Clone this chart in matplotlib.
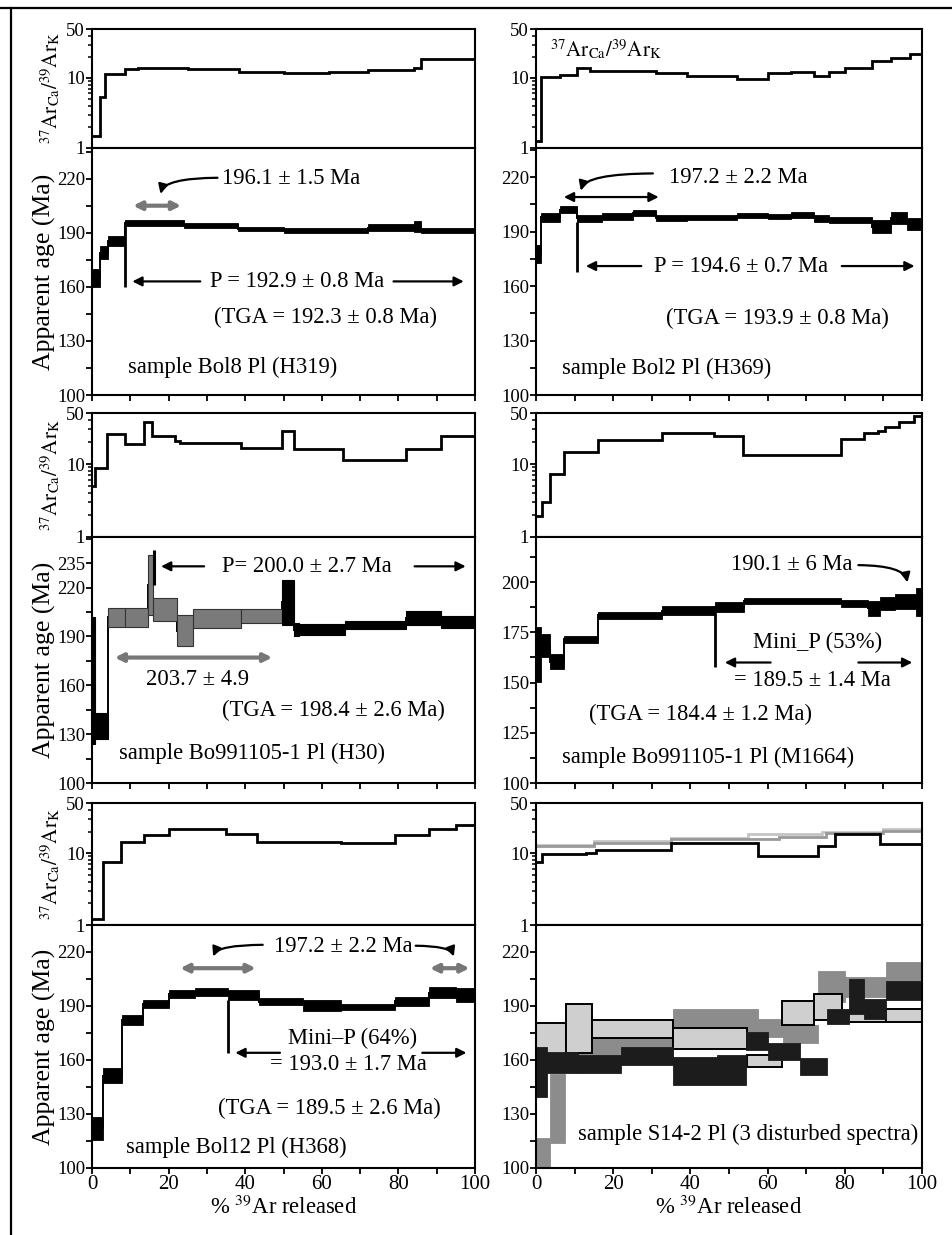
import numpy as np
import matplotlib.pyplot as plt
from matplotlib.lines import Line2D

plt.rcParams['font.family'] = ['Liberation Serif', 'DejaVu Serif']
plt.rcParams['mathtext.fontset'] = 'stix'

# ---- panel a : Bol8 Pl (H319) ----
a_cak_edges = [0, 2.2, 3.5, 8.5, 12, 25, 38.5, 50, 62, 72, 84, 86, 100]
a_cak = [1.5, 5.3, 11.4, 13.5, 14.0, 13.3, 12.2, 11.6, 12.3, 13.0, 14.0, 18.5]
a_edges = [0, 2.2, 4.3, 8.5, 24, 38, 50, 72, 84, 86, 100]
a_age = [165, 179, 185.4, 195.5, 194.2, 192, 191.3, 192.8, 193.5, 191.4]
a_err = [5, 3.7, 2.8, 1.6, 1.4, 1.3, 1.3, 1.8, 3, 1.4]

# ---- panel b : Bol2 Pl (H369) ----
b_cak_edges = [0, 1.3, 6.3, 10.5, 14, 31, 39, 52, 60, 66, 72, 76, 80, 87, 92, 97, 100]
b_cak = [1.27, 10.2, 11.0, 13.7, 12.6, 11.9, 10.7, 9.6, 11.6, 12.3, 10.7, 12.3, 13.7, 17.4, 19.5, 22.3]
b_edges = [0, 1.3, 6.3, 10.5, 17, 25, 31, 39, 52, 60, 66, 72, 76, 87, 92, 96, 100]
b_age = [177.7, 197.8, 202, 197.3, 198.2, 200.2, 197.5, 197.8, 198.8, 198.3, 199.2, 197.3, 196.4, 192.7, 197.5, 194.2]
b_err = [5, 2.3, 2, 1.8, 1.8, 1.6, 1.5, 1.5, 1.5, 1.5, 1.6, 1.8, 1.8, 3.7, 3.2, 3.2]

# ---- panel c : Bo991105-1 Pl (H30) ----
c_cak_edges = [0, 0.7, 3.8, 8.5, 13.7, 15.7, 21.7, 23, 39, 49.5, 52.8, 65.5, 82, 91, 100]
c_cak = [5, 8.7, 26.1, 18.8, 37.5, 24.5, 20.4, 19.4, 16.5, 28.1, 16.0, 11.4, 16.0, 24.5]
c_edges = [0, 0.7, 4.3, 8.5, 14.6, 15.8, 22.3, 26.5, 39, 49.5, 52.8, 54, 66, 82, 91, 100]
c_age = [163, 135, 201.6, 201.6, 221.5, 206.5, 193.4, 201, 202.5, 210.9, 194, 194.3, 197.2, 201.4, 199]
c_err = [39, 8, 6.1, 6.1, 18.5, 7, 9.5, 5.9, 4.4, 13.7, 4, 3.3, 2.4, 4.3, 3.8]
c_in_203 = [0, 0, 1, 1, 1, 1, 1, 1, 1, 0, 0, 0, 0, 0, 0]

# ---- panel d : Bo991105-1 Pl (M1664) ----
d_cak_edges = [0, 1.5, 3.5, 7.2, 16, 32.6, 46, 53.7, 79, 85, 88.5, 90.5, 94, 98, 100]
d_cak = [1.93, 3.04, 7.35, 14.5, 21.6, 26.8, 24.0, 13.3, 22.3, 26.2, 28.6, 31.8, 38.2, 45]
d_edges = [0, 1.3, 3.7, 7.3, 16, 32.6, 46.3, 54, 79, 86, 89, 93, 98.5, 100]
d_age = [163.9, 168.3, 160.4, 171.5, 183.5, 185.8, 187.8, 190.6, 189.4, 187, 189.2, 190.4, 190.2]
d_err = [13.6, 5.8, 3.7, 1.8, 1.8, 2.2, 2.5, 1.4, 1.9, 3.8, 3.3, 3.8, 6.8]

# ---- panel e : Bol12 Pl (H368) ----
e_cak_edges = [0, 3, 7.5, 13.5, 20, 35, 43, 65, 79, 88, 95, 100]
e_cak = [1.21, 7.5, 14.5, 17.9, 21.4, 18.8, 14.5, 13.7, 17.9, 21.4, 24.5]
e_edges = [0, 3, 7.8, 13.3, 20, 27, 35.5, 43.5, 55, 65, 79, 88, 95, 100]
e_age = [122, 151.3, 182.2, 191.2, 196.6, 198, 196.1, 192.4, 190.3, 189.5, 192.7, 197.5, 196.1]
e_err = [6.5, 4.2, 2.8, 2.1, 2.3, 2.2, 2.8, 1.9, 3, 1.7, 2.5, 3.3, 3.7]

# ---- panel f : S14-2 Pl, three runs ----
f1_cak_edges = [0, 1.5, 13, 15.5, 35, 57.5, 73, 77.5, 89, 100]
f1_cak = [7.5, 9.7, 10, 11.1, 13.7, 9.0, 12.4, 18.3, 13.3]
f2_cak_edges = [0, 15, 35, 63, 75, 90, 100]
f2_cak = [12.4, 14.0, 15.8, 17.0, 19.0, 20.5]
f3_cak_edges = [0, 15, 35, 55, 74, 90, 100]
f3_cak = [13.0, 14.8, 16.3, 18.3, 19.8, 21.8]

fA_edges = [0, 7.8, 14.6, 35.5, 54.7, 63.7, 71.9, 79.2, 90.8, 100]
fA_age = [171.7, 177.3, 177, 172, 159.5, 186.1, 189.4, 184, 184.9]
fA_err = [9, 13.6, 5, 6, 3.2, 6.9, 7.4, 3, 3.7]
fB_edges = [0, 3.5, 7.5, 14.6, 22.5, 35.5, 57.5, 64, 73, 80, 90.8, 100]
fB_age = [108, 133, 168, 166.4, 170, 182, 178, 174.3, 201, 200.5, 208.8]
fB_err = [8.5, 19, 6, 6.4, 6, 6.5, 5, 5, 8.7, 5.5, 5.5]
fC_edges = [0, 2.8, 11, 22, 35.5, 47, 54.5, 60, 68.5, 75.5, 81, 85, 90.8, 100]
fC_age = [153.5, 158.6, 157.7, 162.3, 154, 154.5, 170.6, 164.6, 156.3, 184.4, 195.4, 188.5, 198.6]
fC_err = [13.8, 6, 5, 5, 7.8, 8.3, 5, 4.6, 4.6, 4.2, 9.7, 5.5, 5.5]

CAK_LABEL = r'$^{37}\mathrm{Ar}_{\mathrm{Ca}}/^{39}\mathrm{Ar}_{\mathrm{K}}$'
TS = 16.3


def spectrum(ax, edges, age, err, color='k', ec=None, lw=0.6, line=True):
    edges = np.asarray(edges, float)
    age = np.asarray(age, float)
    err = np.asarray(err, float)
    ax.bar(edges[:-1], 2 * err, width=np.diff(edges), bottom=age - err, align='edge',
           color=color, edgecolor=ec if ec else color, linewidth=lw, zorder=2)
    if line:
        ax.stairs(age, edges, baseline=None, color='k', lw=1.4, zorder=1)


def style_axes(ax_top, ax_age, yticks, ylim, bottom_row, left_col):
    for ax in (ax_top, ax_age):
        ax.set_xlim(0, 100)
        for s in ax.spines.values():
            s.set_linewidth(1.5)
        ax.tick_params(direction='out', width=1.3, length=4, labelsize=13.5, pad=1)
    ax_top.set_yscale('log')
    ax_top.set_ylim(1, 50)
    ax_top.set_yticks([1, 10, 50])
    ax_top.set_yticklabels(['1', '10', '50'])
    ax_top.tick_params(which='minor', direction='out', length=3, width=1.1)
    ax_top.set_xticks([])
    ax_age.set_ylim(*ylim)
    ax_age.set_yticks(yticks)
    mids = [(yticks[i] + yticks[i + 1]) / 2 for i in range(len(yticks) - 1)
            if yticks[i + 1] - yticks[i] > 20]
    top_mid = yticks[-1] + (yticks[1] - yticks[0]) / 2
    if top_mid < ylim[1]:
        mids.append(top_mid)
    ax_age.set_yticks(mids, minor=True)
    ax_age.tick_params(which='minor', direction='out', length=4, width=1.3)
    ax_age.set_xticks(range(0, 101, 10))
    if bottom_row:
        ax_age.set_xticklabels([str(v) if v % 20 == 0 else '' for v in range(0, 101, 10)],
                               fontsize=15)
        ax_age.set_xlabel(r'% $^{39}$Ar released', fontsize=TS, labelpad=1)
    else:
        ax_age.set_xticklabels([])
    if left_col:
        ax_age.set_ylabel('Apparent age (Ma)', fontsize=18.5, labelpad=1)
        ax_top.set_ylabel(CAK_LABEL, fontsize=15, labelpad=2)


fig = plt.figure(figsize=(9.52, 12.35), dpi=100)
W, H = 952.0, 1235.0


def make_axes(x0, x1, y_top, y_mid, y_bot):
    ax_t = fig.add_axes([x0 / W, 1 - y_mid / H, (x1 - x0) / W, (y_mid - y_top) / H])
    ax_a = fig.add_axes([x0 / W, 1 - y_bot / H, (x1 - x0) / W, (y_bot - y_mid) / H])
    return ax_t, ax_a


LX = (92, 475)
RX = (536, 922)
rows = [(29, 148, 395), (413, 537, 783), (803, 925, 1168)]

arrow_kw = dict(arrowstyle='-|>', color='k', lw=1.6, mutation_scale=14)
gray_dbl = dict(arrowstyle='<|-|>', color='#777777', lw=3, mutation_scale=12)
blk_dbl = dict(arrowstyle='<|-|>', color='k', lw=1.6, mutation_scale=14)
hook = dict(arrow_kw, connectionstyle='angle3,angleA=0,angleB=90')

# ---------- panel a ----------
t, a = make_axes(*LX, *rows[0])
style_axes(t, a, [100, 130, 160, 190, 220], (100, 237), False, True)
t.stairs(a_cak, a_cak_edges, baseline=None, color='k', lw=2)
spectrum(a, a_edges, a_age, a_err)
a.vlines(a_edges[3], 160, a_age[3] - a_err[3], color='k', lw=2)
a.annotate('', xy=(9.8, 163), xytext=(29, 163), arrowprops=arrow_kw)
a.annotate('', xy=(97.8, 163), xytext=(78, 163), arrowprops=arrow_kw)
a.text(53.5, 163, 'P = 192.9 ± 0.8 Ma', fontsize=TS, ha='center', va='center')
a.annotate('', xy=(10, 205), xytext=(24, 205), arrowprops=gray_dbl)
a.annotate('', xy=(17.8, 210), xytext=(33.5, 220.5), arrowprops=hook)
a.text(34, 220, '196.1 ± 1.5 Ma', fontsize=TS, ha='left', va='center')
a.text(61, 143, '(TGA = 192.3 ± 0.8 Ma)', fontsize=TS, ha='center', va='center')
a.text(9.5, 115.5, 'sample Bol8 Pl (H319)', fontsize=TS, ha='left', va='center')

# ---------- panel b ----------
t, a = make_axes(*RX, *rows[0])
style_axes(t, a, [100, 130, 160, 190, 220], (100, 236), False, False)
t.stairs(b_cak, b_cak_edges, baseline=None, color='k', lw=2)
t.text(3.5, 25, CAK_LABEL, fontsize=15, ha='left', va='center')
spectrum(a, b_edges, b_age, b_err)
a.vlines(b_edges[3], 168, b_age[3] - b_err[3], color='k', lw=2)
a.annotate('', xy=(12.2, 171), xytext=(28, 171), arrowprops=arrow_kw)
a.annotate('', xy=(98.8, 171), xytext=(78.5, 171), arrowprops=arrow_kw)
a.text(53, 171, 'P = 194.6 ± 0.7 Ma', fontsize=TS, ha='center', va='center')
a.annotate('', xy=(6.5, 209), xytext=(32.5, 209), arrowprops=blk_dbl)
a.annotate('', xy=(11.5, 211), xytext=(31, 222), arrowprops=hook)
a.text(34.5, 220, '197.2 ± 2.2 Ma', fontsize=TS, ha='left', va='center')
a.text(62.5, 142, '(TGA = 193.9 ± 0.8 Ma)', fontsize=TS, ha='center', va='center')
a.text(6.8, 114.5, 'sample Bol2 Pl (H369)', fontsize=TS, ha='left', va='center')

# ---------- panel c ----------
t, a = make_axes(*LX, *rows[1])
style_axes(t, a, [100, 130, 160, 190, 220, 235], (100, 251), False, True)
t.stairs(c_cak, c_cak_edges, baseline=None, color='k', lw=2)
c_cols = ['#7a7a7a' if g else 'k' for g in c_in_203]
c_e = np.asarray(c_edges, float)
c_a = np.asarray(c_age, float)
c_s = np.asarray(c_err, float)
a.stairs(c_a, c_e, baseline=None, color='k', lw=1.4, zorder=1)
a.bar(c_e[:-1], 2 * c_s, width=np.diff(c_e), bottom=c_a - c_s, align='edge',
      color=c_cols, edgecolor=['#333333' if g else 'k' for g in c_in_203], linewidth=0.8, zorder=2)
a.vlines(16.2, 221.5, 243, color='k', lw=2.2, zorder=3)
a.annotate('', xy=(17.3, 233), xytext=(30, 233), arrowprops=arrow_kw)
a.annotate('', xy=(98.3, 233), xytext=(83.5, 233), arrowprops=arrow_kw)
a.text(56, 233, 'P= 200.0 ± 2.7 Ma', fontsize=TS, ha='center', va='center')
a.annotate('', xy=(5.2, 177), xytext=(47.8, 177), arrowprops=gray_dbl)
a.text(27.5, 163.5, '203.7 ± 4.9', fontsize=TS, ha='center', va='center')
a.text(63, 144.5, '(TGA = 198.4 ± 2.6 Ma)', fontsize=TS, ha='center', va='center')
a.text(7, 118, 'sample Bo991105-1 Pl (H30)', fontsize=TS, ha='left', va='center')

# ---------- panel d ----------
t, a = make_axes(*RX, *rows[1])
style_axes(t, a, [100, 125, 150, 175, 200], (100, 222.5), False, False)
a.set_yticks([112.5, 137.5, 162.5, 187.5, 212.5], minor=True)
t.stairs(d_cak, d_cak_edges, baseline=None, color='k', lw=2)
spectrum(a, d_edges, d_age, d_err)
a.vlines(d_edges[6], 158, d_age[5], color='k', lw=2)
a.annotate('', xy=(48.2, 160), xytext=(61.5, 160), arrowprops=arrow_kw)
a.annotate('', xy=(98.2, 160), xytext=(82.8, 160), arrowprops=arrow_kw)
a.text(73, 170, 'Mini_P (53%)', fontsize=TS, ha='center', va='center')
a.text(71.5, 151, '= 189.5 ± 1.4 Ma', fontsize=TS, ha='center', va='center')
a.text(82, 209, '190.1 ± 6 Ma', fontsize=TS, ha='right', va='center')
a.annotate('', xy=(96.3, 198.5), xytext=(82.8, 208.5), arrowprops=hook)
a.text(42.5, 134, '(TGA = 184.4 ± 1.2 Ma)', fontsize=TS, ha='center', va='center')
a.text(44.5, 112.5, 'sample Bo991105-1 Pl (M1664)', fontsize=TS, ha='center', va='center')

# ---------- panel e ----------
t, a = make_axes(*LX, *rows[2])
style_axes(t, a, [100, 130, 160, 190, 220], (100, 235), True, True)
t.stairs(e_cak, e_cak_edges, baseline=None, color='k', lw=2)
spectrum(a, e_edges, e_age, e_err)
a.vlines(e_edges[6], 164, e_age[6] - e_err[6], color='k', lw=2)
a.annotate('', xy=(36.7, 164), xytext=(49.8, 164), arrowprops=arrow_kw)
a.annotate('', xy=(98.5, 164), xytext=(85.5, 164), arrowprops=arrow_kw)
a.text(68, 172, 'Mini–P (64%)', fontsize=TS, ha='center', va='center')
a.text(67, 157.5, '= 193.0 ± 1.7 Ma', fontsize=TS, ha='center', va='center')
a.annotate('', xy=(22.3, 211), xytext=(43.5, 211), arrowprops=gray_dbl)
a.annotate('', xy=(87.5, 211), xytext=(99.3, 211), arrowprops=gray_dbl)
a.text(65.5, 222.8, '197.2 ± 2.2 Ma', fontsize=TS, ha='center', va='center')
a.annotate('', xy=(31.5, 216), xytext=(45.3, 224), arrowprops=hook)
a.annotate('', xy=(94.6, 216), xytext=(83.8, 223.5), arrowprops=hook)
a.text(62, 133, '(TGA = 189.5 ± 2.6 Ma)', fontsize=TS, ha='center', va='center')
a.text(9, 111.7, 'sample Bol12 Pl (H368)', fontsize=TS, ha='left', va='center')

# ---------- panel f ----------
t, a = make_axes(*RX, *rows[2])
style_axes(t, a, [100, 130, 160, 190, 220], (100, 235), True, False)
t.stairs(f3_cak, f3_cak_edges, baseline=None, color='#c4c4c4', lw=2)
t.stairs(f2_cak, f2_cak_edges, baseline=None, color='#999999', lw=2)
t.stairs(f1_cak, f1_cak_edges, baseline=None, color='k', lw=2)
spectrum(a, fB_edges, fB_age, fB_err, color='#8c8c8c', line=False)
spectrum(a, fA_edges, fA_age, fA_err, color='#cfcfcf', ec='k', lw=1.4, line=False)
spectrum(a, fC_edges, fC_age, fC_err, color='#1c1c1c', line=False)
a.text(10.8, 118.5, 'sample S14-2 Pl (3 disturbed spectra)', fontsize=TS, ha='left', va='center')

# outer frame
fig.add_artist(Line2D([0, 1], [1 - 8 / H, 1 - 8 / H], color='k', lw=1.6))
fig.add_artist(Line2D([11 / W, 11 / W], [0, 1 - 8 / H], color='k', lw=1.6))

fig.savefig('out.png', dpi=100)
